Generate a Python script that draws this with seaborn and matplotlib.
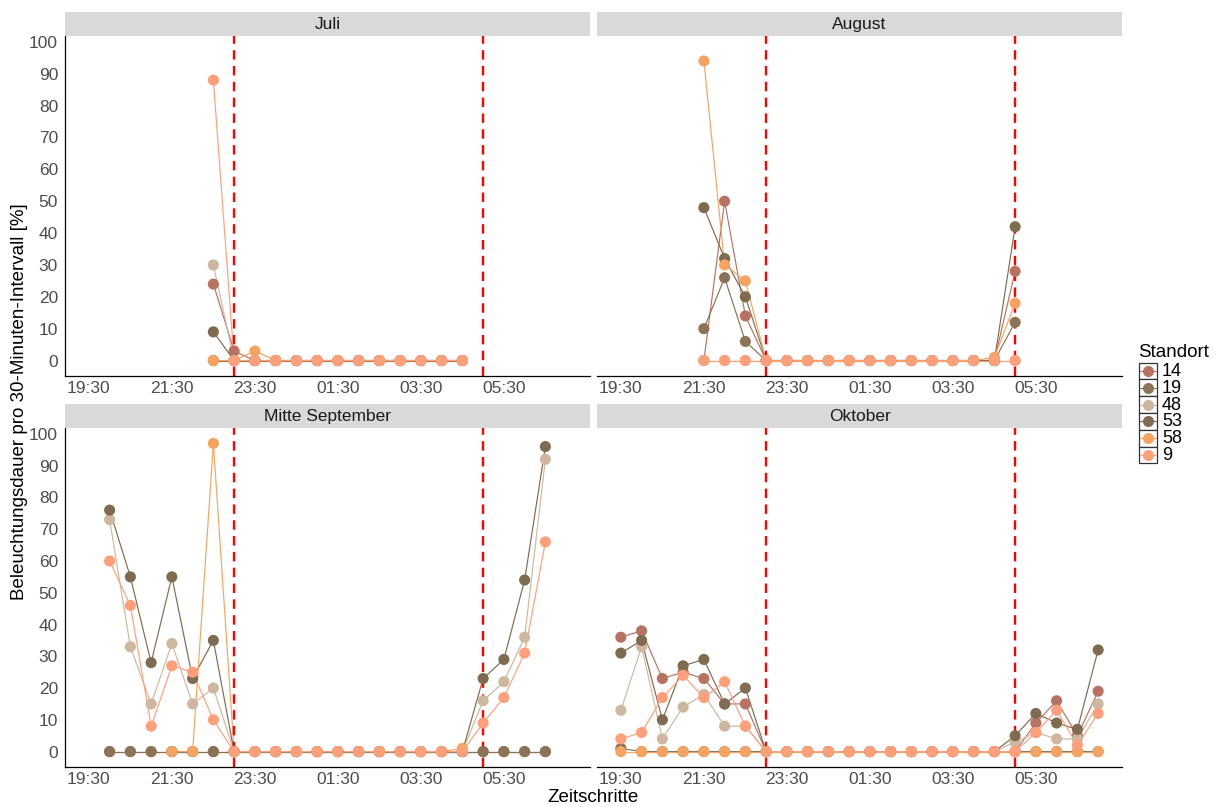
import numpy as np
import pandas as pd
import matplotlib
matplotlib.use("Agg")
import matplotlib.pyplot as plt
import seaborn as sns
from matplotlib.patches import Rectangle

# ---------------- data ----------------
months = ["Juli", "August", "Mitte September", "Oktober"]
standorte = ["14", "19", "48", "53", "58", "9"]
tick_steps = [0, 4, 8, 12, 16, 20]
tick_labels = ["19:30", "21:30", "23:30", "01:30", "03:30", "05:30"]
night_lines = [7, 19]   # 23:00 and 05:00
N = None

# Juli: steps 6 .. 18
juli_start = 6
juli_14 = [24, 3, 0, 0, 0, 0, 0, 0, 0, 0, 0, 0, 0]
juli_19 = [0, 0, 0, 0, 0, 0, 0, 0, 0, 0, 0, 0, 0]
juli_48 = [30, 0, 0, 0, 0, 0, 0, 0, 0, 0, 0, 0, 0]
juli_53 = [9, 0, 0, 0, 0, 0, 0, 0, 0, 0, 0, 0, 0]
juli_58 = [0, 0, 3, 0, 0, 0, 0, 0, 0, 0, 0, 0, 0]
juli_9 = [88, 0, 0, 0, 0, 0, 0, 0, 0, 0, 0, 0, 0]

# August: steps 4 .. 19
aug_start = 4
aug_14 = [0, 50, 14, 0, 0, 0, 0, 0, 0, 0, 0, 0, 0, 0, 0, 28]
aug_19 = [10, 26, 6, 0, 0, 0, 0, 0, 0, 0, 0, 0, 0, 0, 0, 12]
aug_48 = [0, 0, 0, 0, 0, 0, 0, 0, 0, 0, 0, 0, 0, 0, 0, 0]
aug_53 = [48, 32, 20, 0, 0, 0, 0, 0, 0, 0, 0, 0, 0, 0, 0, 42]
aug_58 = [94, 30, 25, 0, 0, 0, 0, 0, 0, 0, 0, 0, 0, 0, 1, 18]
aug_9 = [0, 0, 0, 0, 0, 0, 0, 0, 0, 0, 0, 0, 0, 0, 0, 0]

# Mitte September: steps 1 .. 22
sep_start = 1
sep_14 = [0, 0, 0, 0, 0, 0, 0, 0, 0, 0, 0, 0, 0, 0, 0, 0, 0, 0, 0, 0, 0, 0]
sep_19 = [0, 0, 0, 0, 0, 0, 0, 0, 0, 0, 0, 0, 0, 0, 0, 0, 0, 0, 0, 0, 0, 0]
sep_48 = [73, 33, 15, 34, 15, 20, 0, 0, 0, 0, 0, 0, 0, 0, 0, 0, 0, 0, 16, 22, 36, 92]
sep_53 = [76, 55, 28, 55, 23, 35, 0, 0, 0, 0, 0, 0, 0, 0, 0, 0, 0, 0, 23, 29, 54, 96]
sep_58 = [N, N, N, 0, 0, 97, 0, 0, 0, 0, 0, 0, 0, 0, 0, 0, 0, 1, N, N, N, N]
sep_9 = [60, 46, 8, 27, 25, 10, 0, 0, 0, 0, 0, 0, 0, 0, 0, 0, 0, 0, 9, 17, 31, 66]

# Oktober: steps 0 .. 23
okt_start = 0
okt_14 = [36, 38, 23, 25, 23, 15, 15, 0, 0, 0, 0, 0, 0, 0, 0, 0, 0, 0, 0, 0, 9, 16, 5, 19]
okt_19 = [1, 0, 0, 0, 0, 0, 0, 0, 0, 0, 0, 0, 0, 0, 0, 0, 0, 0, 0, 0, 0, 0, 0, 0]
okt_48 = [13, 33, 4, 14, 18, 8, 8, 0, 0, 0, 0, 0, 0, 0, 0, 0, 0, 0, 0, 3, 6, 4, 4, 15]
okt_53 = [31, 35, 10, 27, 29, 15, 20, 0, 0, 0, 0, 0, 0, 0, 0, 0, 0, 0, 0, 5, 12, 9, 7, 32]
okt_58 = [0, 0, 0, 0, 0, 0, 0, 0, 0, 0, 0, 0, 0, 0, 0, 0, 0, 0, 0, 0, 0, 0, 0, 0]
okt_9 = [4, 6, 17, 24, 17, 22, 8, 0, 0, 0, 0, 0, 0, 0, 0, 0, 0, 0, 0, 0, 6, 13, 2, 12]

palette = {"14": "#B87262", "19": "#8B7355", "48": "#CDB79E",
           "53": "#7F6B50", "58": "#F4A460", "9": "#FFA07A"}

series = {
    "Juli": (juli_start, [juli_14, juli_19, juli_48, juli_53, juli_58, juli_9]),
    "August": (aug_start, [aug_14, aug_19, aug_48, aug_53, aug_58, aug_9]),
    "Mitte September": (sep_start, [sep_14, sep_19, sep_48, sep_53, sep_58, sep_9]),
    "Oktober": (okt_start, [okt_14, okt_19, okt_48, okt_53, okt_58, okt_9]),
}

rows = []
for m in months:
    start, lists = series[m]
    for st, vals in zip(standorte, lists):
        for i, v in enumerate(vals):
            if v is not None:
                rows.append({"Monat": m, "Schritt": start + i, "Standort": st, "Wert": v})
df = pd.DataFrame(rows)

# ---------------- figure ----------------
sns.set_style("white")
plt.rcParams["font.family"] = ["Liberation Sans", "DejaVu Sans"]

W, H = 1217, 807
fig = plt.figure(figsize=(W / 100, H / 100), dpi=100)


def rect(l, t, r, b):
    return [l / W, 1 - b / H, (r - l) / W, (b - t) / H]


panels = {
    "Juli": (65, 36, 590, 376),
    "August": (597, 36, 1122, 376),
    "Mitte September": (65, 428, 590, 767),
    "Oktober": (597, 428, 1122, 767),
}
left_col = {"Juli", "Mitte September"}

for m in months:
    l, t, r, b = panels[m]
    ax = fig.add_axes(rect(l, t, r, b))
    sub = df[df["Monat"] == m]
    sns.lineplot(data=sub, x="Schritt", y="Wert", hue="Standort", hue_order=standorte,
                 palette=palette, estimator=None, sort=True, linewidth=0.85,
                 legend=False, ax=ax)
    sns.scatterplot(data=sub, x="Schritt", y="Wert", hue="Standort", hue_order=standorte,
                    palette=palette, s=64, linewidth=0, legend=False, ax=ax, zorder=3)
    for v in night_lines:
        ax.axvline(v, color="#FF0000", lw=1.7, ls=(0, (4, 2.7)), zorder=2.5)
    ax.set_xlim(-1.15, 24.15)
    ax.set_ylim(-4.85, 101.85)
    ax.set_xticks(tick_steps)
    ax.set_xticklabels(tick_labels)
    ax.set_xlabel("")
    ax.set_ylabel("")
    for s in ["top", "right"]:
        ax.spines[s].set_visible(False)
    ax.spines["bottom"].set_color("black")
    ax.spines["bottom"].set_linewidth(0.9)
    ax.tick_params(axis="x", direction="out", length=3, width=0.8, color="#333333",
                   labelsize=12.5, labelcolor="#4D4D4D", pad=0.5)
    ax.tick_params(axis="y", direction="out", length=3, width=0.8, color="#333333",
                   labelsize=12.5, labelcolor="#4D4D4D", pad=2)
    if m in left_col:
        ax.set_yticks(range(0, 101, 10))
        ax.spines["left"].set_color("black")
        ax.spines["left"].set_linewidth(0.9)
    else:
        ax.set_yticks([])
        ax.spines["left"].set_visible(False)
    ax.grid(False)
    ax.set_facecolor("white")

    # strip
    sax = fig.add_axes(rect(l, t - 24, r, t))
    sax.set_facecolor("#D9D9D9")
    sax.set_xticks([])
    sax.set_yticks([])
    for s in sax.spines.values():
        s.set_visible(False)
    sax.text(0.5, 0.48, m, ha="center", va="center", fontsize=12.5, color="#1A1A1A",
             transform=sax.transAxes)

fig.text(20 / W, 1 - 402 / H, "Beleuchtungsdauer pro 30-Minuten-Intervall [%]",
         rotation=90, ha="center", va="center", fontsize=13.5, color="black")
fig.text(593 / W, 1 - 798 / H, "Zeitschritte", ha="center", va="center",
         fontsize=13.5, color="black")

# legend
lax = fig.add_axes(rect(1128, 338, 1217, 470))
lax.set_xlim(1128, 1217)
lax.set_ylim(470, 338)
lax.axis("off")
lax.text(1138, 352, "Standort", ha="left", va="center", fontsize=13.5, color="black")
for i, st in enumerate(standorte):
    yc = 371 + 16.8 * i
    lax.add_patch(Rectangle((1139, yc - 8.4), 17.5, 16.8, facecolor="white",
                            edgecolor="#333333", lw=0.9))
    lax.plot([1140, 1155.5], [yc, yc], color=palette[st], lw=0.85)
    lax.scatter([1147.75], [yc], s=64, color=palette[st], linewidth=0, zorder=3)
    lax.text(1162, yc + 0.5, st, ha="left", va="center", fontsize=13, color="black")

fig.savefig("out.png", dpi=100)
